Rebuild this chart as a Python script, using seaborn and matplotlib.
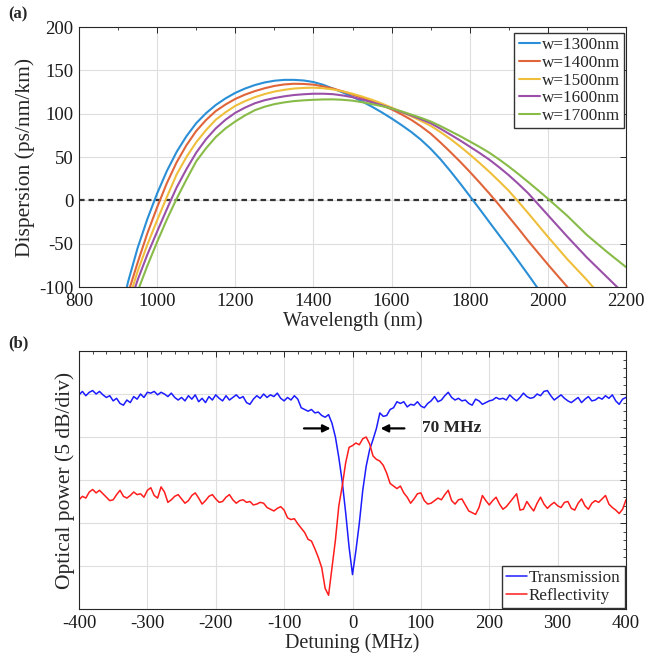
import numpy as np
import pandas as pd
import matplotlib
matplotlib.use("Agg")
import matplotlib.pyplot as plt
import seaborn as sns
from matplotlib.ticker import MultipleLocator

nan = np.nan
# ---------------- data: panel (a) ----------------
wavelength = list(range(900, 2201, 25))
d_w1300 = [-150, -95, -55, -21.5, 8, 34, 56, 74, 89, 100.5,
           110, 117.6, 124, 129, 133, 136, 138, 139, 139, 138.3,
           136.5, 133.3, 129, 124.5, 119.5, 114, 108, 101.5, 94.5, 87,
           79, 70, 59.5, 47.5, 34, 19.8, 5, -9.8, -25, -40,
           -55, -70.4, -86, -102, -118, nan, nan, nan, nan, nan,
           nan, nan, nan]
d_w1400 = [-150, -108, -72, -38, -8, 20, 44, 63.6, 80, 92.6,
           103, 110.6, 117, 122, 126, 129.3, 132, 133.7, 134.5, 134.3,
           133.5, 131.5, 129, 125.7, 122, 118.2, 114, 109.7, 105, 99.3,
           93, 85.5, 77, 66.8, 56, 44.8, 33, 20.7, 8, -5.3,
           -19, -32.8, -47, -60.5, -74, -87, -100, -114, -128, nan,
           nan, nan, nan]
d_w1500 = [-160, -118, -82, -51, -23, 4, 30, 50, 67, 81,
           93, 101.6, 109, 114.5, 119, 122.6, 125.5, 127.5, 129, 129.7,
           130, 129.3, 128, 125.8, 123, 119.7, 116, 111.7, 107, 102.1,
           97, 91.8, 86, 78.8, 71, 62.3, 53, 43.2, 33, 22.2,
           11, -1.8, -15, -28.5, -42, -55, -68, -80, -92, -105,
           -118, nan, nan]
d_w1600 = [-165, -126, -92, -62.5, -36, -10, 15, 36, 55, 70.5,
           83, 93, 101, 107, 112, 115.5, 118, 120, 121.5, 122.4,
           123, 123, 122.5, 121, 119, 116.3, 113, 109.7, 106, 102.1,
           98, 93.7, 89, 82.7, 76, 69.2, 62, 54.7, 47, 38.3,
           29, 18.8, 8, -4.5, -17, -29.5, -42, -54, -66, -77,
           -88, -99, -110]
d_w1700 = [-170, -135, -105, -75.5, -48, -22, 2, 24, 45, 60,
           73, 83, 91, 98, 104, 108, 111, 113, 114.5, 115.4,
           116, 116.4, 116.5, 116, 115, 113.2, 111, 108.7, 106, 102.7,
           99, 95.2, 91, 85.7, 80, 74.2, 68, 61.7, 55, 47.3,
           39, 30.2, 21, 11.6, 2, -8, -18, -29, -40, -49.5,
           -59, -68, -77]
width_labels = ["w=1300nm", "w=1400nm", "w=1500nm", "w=1600nm", "w=1700nm"]
width_colors = ["#2a8fd6", "#e0653a", "#efbf3c", "#9a50a8", "#88bb48"]

# ---------------- data: panel (b) ----------------
detuning = list(range(-400, 401, 5))
transmission = [
    24.9, 25.3, 24.8, 25.2, 25.4, 25.0, 25.3, 24.9, 24.6, 24.8,   # -400 .. -355
    24.2, 24.5, 23.9, 23.7, 24.3, 24.0, 24.7, 24.4, 25.0, 24.6,   # -350 .. -305
    25.2, 25.1, 25.3, 24.9, 25.2, 25.0, 24.7, 25.1, 24.6, 24.3,   # -300 .. -255
    24.6, 24.2, 24.8, 24.4, 24.9, 24.1, 24.5, 24.0, 24.7, 24.3,   # -250 .. -205
    24.9, 24.5, 24.2, 24.8, 24.3, 24.6, 24.9, 24.5, 24.7, 24.0,   # -200 .. -155
    23.8, 24.4, 24.8, 24.5, 25.0, 24.6, 24.9, 24.7, 25.1, 24.5,   # -150 .. -105
    24.2, 24.6, 24.3, 24.8, 24.4, 23.4, 23.2, 23.0, 23.2, 22.8,   # -100 .. -55
    22.9, 22.5, 22.3, 22.6, 21.6, 20.0, 17.6, 14.8, 11.2, 7.2,    # -50 .. -5
    4.0,                                                          # 0
    6.8, 10.0, 13.8, 16.6, 18.5, 19.7, 21.0, 22.8, 22.4, 22.5,    # 5 .. 50
    23.2, 23.4, 24.1, 23.9, 24.1, 23.5, 23.8, 23.7, 24.1, 23.6,   # 55 .. 100
    23.4, 23.9, 24.2, 24.7, 24.1, 24.3, 24.8, 25.2, 24.6, 24.3,   # 105 .. 150
    24.5, 24.2, 24.3, 23.9, 23.7, 24.4, 24.2, 23.8, 24.0, 24.2,   # 155 .. 200
    24.3, 24.6, 24.4, 24.5, 24.3, 24.9, 24.5, 24.2, 24.6, 25.1,   # 205 .. 250
    24.7, 24.5, 24.6, 25.0, 24.8, 25.3, 25.4, 24.8, 24.3, 24.6,   # 255 .. 300
    24.9, 24.5, 24.2, 24.0, 24.3, 24.6, 24.0, 24.4, 24.7, 24.2,   # 305 .. 350
    24.3, 24.6, 24.4, 24.8, 24.5, 24.9, 24.2, 23.8, 24.4, 24.6,   # 355 .. 400
]
reflectivity = [
    12.7, 13.1, 12.9, 13.6, 13.9, 13.5, 13.8, 13.4, 13.0, 12.6,   # -400 .. -355
    12.7, 13.3, 13.8, 13.1, 12.9, 13.2, 13.6, 13.3, 13.4, 13.0,   # -350 .. -305
    13.8, 14.1, 13.2, 12.9, 14.2, 13.6, 12.4, 12.7, 13.1, 13.3,   # -300 .. -255
    12.8, 12.3, 12.6, 13.2, 13.5, 12.9, 12.2, 12.6, 13.1, 13.3,   # -250 .. -205
    12.8, 12.4, 12.5, 13.0, 13.3, 12.7, 12.3, 12.6, 12.7, 12.4,   # -200 .. -155
    12.5, 12.1, 12.2, 12.4, 12.3, 11.8, 11.6, 11.4, 11.7, 11.9,   # -150 .. -105
    11.5, 10.6, 10.4, 10.5, 9.9, 9.4, 8.9, 8.1, 7.9, 7.0,         # -100 .. -55
    6.0, 4.8, 2.4, 1.6, 4.8, 8.0, 12.0, 14.3, 17.0, 18.8,         # -50 .. -5
    19.0,                                                         # 0
    19.3, 19.1, 19.8, 20.0, 19.2, 17.8, 17.4, 17.2, 16.7, 15.8,   # 5 .. 50
    14.6, 14.3, 14.0, 14.3, 13.5, 13.0, 12.3, 12.8, 13.4, 13.5,   # 55 .. 100
    12.6, 12.2, 12.3, 12.6, 12.9, 12.7, 13.3, 13.8, 12.6, 12.2,   # 105 .. 150
    12.7, 12.8, 12.1, 11.4, 11.2, 11.0, 11.8, 13.2, 12.6, 12.1,   # 155 .. 200
    12.6, 13.0, 12.2, 11.6, 11.9, 12.4, 12.9, 13.4, 11.5, 11.6,   # 205 .. 250
    12.5, 11.9, 11.4, 12.3, 13.0, 12.2, 11.7, 12.1, 12.4, 12.0,   # 255 .. 300
    11.8, 12.4, 12.5, 11.7, 11.5, 12.3, 12.8, 12.0, 11.6, 12.3,   # 305 .. 350
    12.6, 12.4, 12.8, 13.2, 12.2, 11.8, 11.5, 11.1, 11.6, 12.7,   # 355 .. 400
]

# ---------------- style ----------------
sns.set_style("white")
plt.rcParams["font.family"] = ["Liberation Serif", "DejaVu Serif"]
plt.rcParams["axes.unicode_minus"] = False

spine_c = "#262626"
grid_c = "#dedede"

fig = plt.figure(figsize=(6.45, 6.62), dpi=100)
ax1 = fig.add_axes([79 / 645, 1 - 287 / 662, 547 / 645, 260 / 662])
ax2 = fig.add_axes([79 / 645, 1 - 609 / 662, 547 / 645, 258 / 662])

# ---------------- panel (a) ----------------
series_a = [d_w1300, d_w1400, d_w1500, d_w1600, d_w1700]
for vals, lab, col in zip(series_a, width_labels, width_colors):
    df = pd.DataFrame({"wl": wavelength, "D": vals})
    sns.lineplot(data=df, x="wl", y="D", ax=ax1, color=col, lw=1.5, label=lab, sort=False)
ax1.axhline(0, color="#333333", lw=1.6, ls=(0, (2.5, 1.8)), zorder=1)

ax1.set_xlim(800, 2200)
ax1.set_ylim(-100, 200)
ax1.xaxis.set_major_locator(MultipleLocator(200))
ax1.xaxis.set_minor_locator(MultipleLocator(100))
ax1.yaxis.set_major_locator(MultipleLocator(50))
ax1.set_xlabel("Wavelength (nm)", fontsize=14.5, labelpad=1)
ax1.set_ylabel("Dispersion (ps/nm/km)", fontsize=15.5, labelpad=3)
ax1.legend(loc="upper right", bbox_to_anchor=(0.9963, 0.977), borderaxespad=0,
           frameon=True, fancybox=False, edgecolor="#333333", framealpha=1,
           fontsize=12.3, handlelength=1.25, handletextpad=0.1, labelspacing=0.1,
           borderpad=0.25)

# ---------------- panel (b) ----------------
df_t = pd.DataFrame({"det": detuning, "P": transmission})
df_r = pd.DataFrame({"det": detuning, "P": reflectivity})
sns.lineplot(data=df_t, x="det", y="P", ax=ax2, color="#1c1cff", lw=1.1, label="Transmission", sort=False)
sns.lineplot(data=df_r, x="det", y="P", ax=ax2, color="#ff1c1c", lw=1.1, label="Reflectivity", sort=False)

ax2.set_xlim(-400, 400)
ax2.set_ylim(0, 30)
ax2.xaxis.set_major_locator(MultipleLocator(100))
ax2.xaxis.set_minor_locator(MultipleLocator(20))
ax2.yaxis.set_major_locator(MultipleLocator(5))
ax2.yaxis.set_minor_locator(MultipleLocator(1))
ax2.set_xlabel("Detuning (MHz)", fontsize=14.5, labelpad=1)
ax2.set_ylabel("Optical power (5 dB/div)", fontsize=15.5, labelpad=3)
ax2.legend(loc="lower right", bbox_to_anchor=(0.998, 0.004), borderaxespad=0,
           frameon=True, fancybox=False, edgecolor="#333333", framealpha=1,
           fontsize=12.3, handlelength=1.25, handletextpad=0.1, labelspacing=0.1,
           borderpad=0.25)

arrow_kw = dict(arrowstyle="-|>", color="black", lw=1.6, mutation_scale=11)
ax2.annotate("", xy=(-28, 21), xytext=(-75, 21), arrowprops=arrow_kw)
ax2.annotate("", xy=(37, 21), xytext=(80, 21), arrowprops=arrow_kw)
ax2.text(101, 21, "70 MHz", fontsize=12.5, fontweight="bold", va="center", ha="left")

# ---------------- common axes styling ----------------
for ax in (ax1, ax2):
    ax.grid(True, which="major", color=grid_c, lw=0.8)
    ax.set_axisbelow(True)
    for s in ax.spines.values():
        s.set_color(spine_c)
        s.set_linewidth(0.8)
    ax.tick_params(which="both", direction="in", top=True, right=True, colors=spine_c,
                   labelcolor="#1a1a1a")
    ax.tick_params(which="major", length=4, width=0.7, labelsize=13.5, pad=4)
    ax.tick_params(which="minor", length=2.2, width=0.6)
ax2.tick_params(axis="y", which="both", labelleft=False)

fig.text(8 / 645, 1 - 14 / 662, "(a)", fontsize=12, fontweight="bold", va="center", ha="left")
fig.text(8 / 645, 1 - 343 / 662, "(b)", fontsize=12, fontweight="bold", va="center", ha="left")

fig.savefig("out.png", dpi=100)
